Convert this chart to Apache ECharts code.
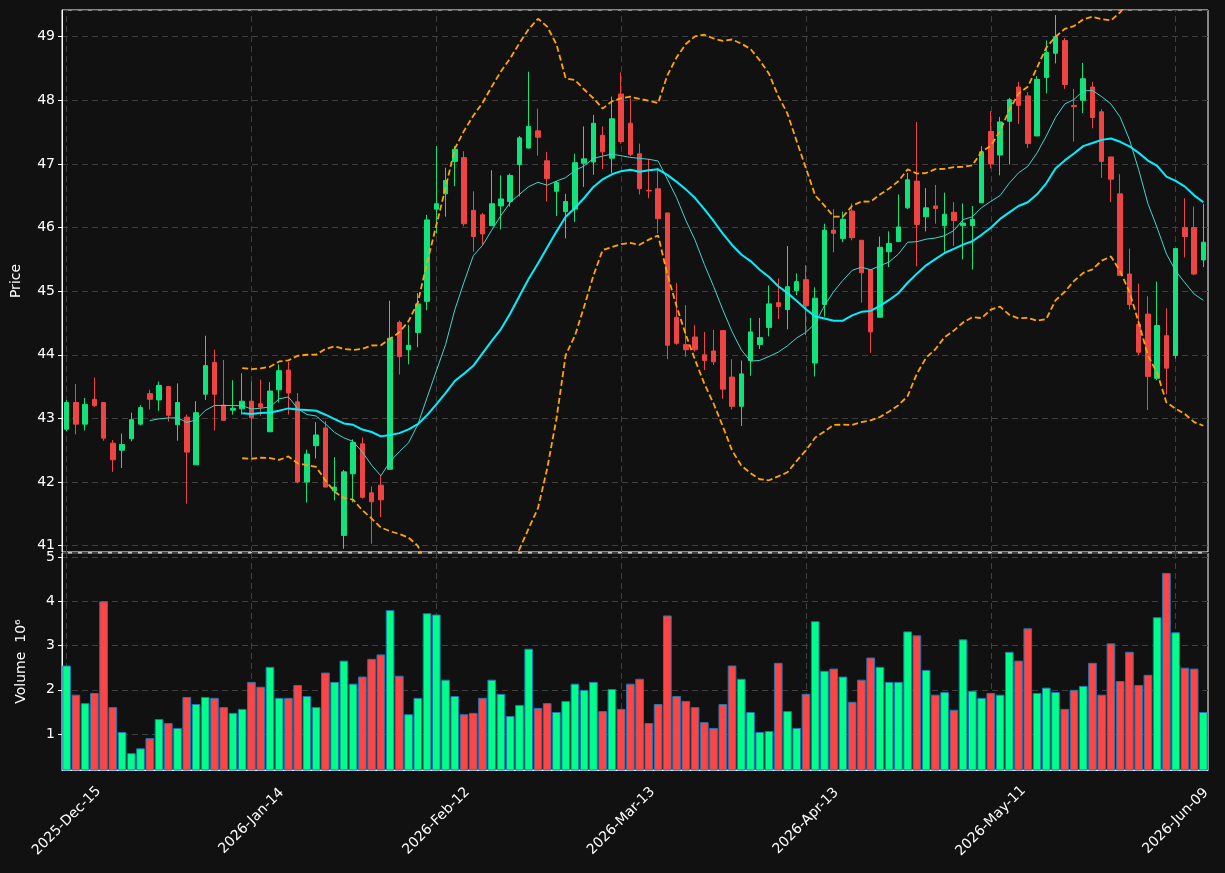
<!DOCTYPE html>
<html>
<head>
<meta charset="utf-8">
<script src="https://cdn.jsdelivr.net/npm/echarts@6/dist/echarts.min.js"></script>
<style>
  html, body { margin: 0; padding: 0; background: #111111; }
  #chart-container { width: 1225px; height: 873px; }
</style>
</head>
<body>
<div id="chart-container"></div>
<script>
// trading days from 2025-12-15, market holidays skipped
var startDay = "2025-12-15";
var barCount = 124;
var holidays = ["2025-12-25", "2026-01-01", "2026-01-19", "2026-02-16", "2026-04-03", "2026-05-25"];
var monthNames = ["Jan", "Feb", "Mar", "Apr", "May", "Jun", "Jul", "Aug", "Sep", "Oct", "Nov", "Dec"];

// OHLC
var opens = [
  42.83, 43.25, 42.91, 43.30, 43.25, 42.61, 42.50, 42.68, 42.91, 43.39,
  43.29, 43.50, 42.90, 43.02, 42.27, 43.38, 43.88, 43.21, 43.13, 43.15,
  43.27, 43.23, 42.79, 43.45, 43.76, 43.26, 42.00, 42.57, 42.85, 41.86,
  41.16, 42.13, 42.60, 41.83, 41.95, 42.20, 44.51, 44.08, 44.35, 44.84,
  46.29, 46.53, 47.04, 47.10, 46.27, 46.20, 46.03, 46.34, 46.41, 46.99,
  47.25, 47.52, 47.05, 46.57, 46.25, 46.29, 47.01, 47.03, 47.45, 47.09,
  48.10, 47.64, 47.16, 46.585, 46.61, 46.23, 44.59, 44.16, 44.28, 44.00,
  44.06, 44.38, 43.65, 43.19, 43.91, 44.16, 44.43, 44.82, 44.71, 45.01,
  45.18, 43.87, 44.79, 45.96, 45.83, 46.26, 45.80, 45.34, 44.59, 45.62,
  45.78, 46.31, 46.73, 46.17, 46.34, 46.03, 46.24, 46.03, 46.03, 46.39,
  47.51, 47.14, 47.67, 48.21, 48.07, 47.44, 48.36, 48.74, 48.94, 47.92,
  48.00, 48.21, 47.82, 47.11, 46.53, 45.27, 44.48, 44.64, 43.63, 44.30,
  43.99, 46.00, 46.00, 45.49
];
var closes = [
  43.25, 42.91, 43.22, 43.20, 42.69, 42.35, 42.59, 42.98, 43.17, 43.30,
  43.52, 43.05, 43.25, 42.47, 43.09, 43.83, 43.38, 42.97, 43.16, 43.27,
  43.01, 43.18, 43.43, 43.75, 43.40, 42.00, 42.44, 42.74, 41.92, 41.92,
  42.16, 42.62, 41.76, 41.69, 41.72, 44.26, 43.97, 44.15, 44.80, 46.12,
  46.375, 46.74, 47.23, 46.06, 45.86, 45.90, 46.375, 46.45, 46.82, 47.41,
  47.59, 47.42, 46.77, 46.71, 46.41, 47.02, 47.08, 47.64, 47.19, 47.71,
  47.35, 47.15, 46.61, 46.575, 46.14, 44.15, 44.18, 44.08, 44.08, 43.91,
  43.89, 43.46, 43.19, 43.70, 44.36, 44.27, 44.80, 44.76, 45.07, 45.15,
  44.77, 44.89, 45.96, 45.91, 46.13, 45.84, 45.29, 44.36, 45.69, 45.75,
  46.01, 46.75, 46.05, 46.31, 46.30, 46.21, 46.11, 46.07, 46.13, 47.19,
  47.00, 47.66, 48.01, 47.92, 47.32, 48.33, 48.75, 49.00, 48.25, 47.90,
  48.34, 47.73, 47.04, 46.76, 45.25, 44.79, 44.04, 43.66, 44.46, 43.79,
  45.67, 45.86, 45.27, 45.77
];
var lows = [
  42.80, 42.75, 42.81, 43.18, 42.65, 42.16, 42.22, 42.64, 42.89, 43.14,
  43.12, 42.95, 42.65, 41.66, 42.27, 43.29, 42.81, 42.97, 43.06, 43.06,
  42.39, 43.04, 42.79, 43.25, 43.06, 41.98, 41.68, 42.37, 41.92, 41.71,
  40.95, 41.68, 41.74, 41.03, 41.45, 42.20, 43.69, 43.85, 44.12, 44.70,
  45.91, 46.17, 46.65, 46.02, 45.62, 45.73, 46.03, 45.97, 46.33, 46.49,
  47.24, 47.13, 46.41, 46.18, 45.83, 46.09, 46.64, 46.83, 46.92, 46.86,
  47.32, 47.12, 46.52, 46.46, 45.91, 43.93, 44.16, 43.97, 44.05, 43.76,
  43.84, 43.31, 43.14, 42.88, 43.67, 44.09, 44.29, 44.56, 44.40, 44.94,
  44.31, 43.66, 44.60, 45.61, 45.77, 45.80, 44.82, 44.03, 44.59, 45.38,
  45.78, 46.29, 45.39, 45.94, 46.06, 45.62, 45.71, 45.50, 45.34, 46.39,
  46.93, 46.82, 46.99, 47.63, 47.25, 47.44, 48.11, 48.58, 48.18, 47.35,
  47.80, 47.56, 46.78, 46.40, 45.25, 44.71, 43.99, 43.13, 43.60, 43.38,
  43.94, 45.53, 45.25, 45.38
];
var highs = [
  43.29, 43.54, 43.32, 43.64, 43.25, 42.66, 42.76, 43.09, 43.21, 43.45,
  43.58, 43.50, 43.55, 43.06, 43.27, 44.30, 44.08, 43.92, 43.60, 43.71,
  43.58, 43.61, 43.57, 43.85, 43.89, 43.40, 42.51, 42.94, 42.96, 42.39,
  42.19, 42.67, 42.70, 41.93, 42.10, 44.85, 44.54, 44.47, 44.97, 46.20,
  47.28, 46.94, 47.28, 47.20, 46.57, 46.23, 46.90, 46.82, 46.85, 47.44,
  48.45, 47.87, 47.19, 46.73, 46.53, 47.16, 47.59, 47.77, 47.59, 48.06,
  48.44, 48.03, 47.32, 47.08, 46.94, 46.23, 45.13, 44.78, 44.47, 44.36,
  44.39, 44.38, 43.93, 43.91, 44.58, 44.58, 45.09, 45.20, 45.71, 45.28,
  45.41, 45.06, 46.06, 46.29, 46.25, 46.38, 45.80, 45.34, 45.86, 45.94,
  46.52, 46.86, 47.66, 46.62, 46.67, 46.55, 46.40, 46.38, 46.34, 47.28,
  47.83, 47.74, 48.04, 48.29, 48.13, 48.38, 48.94, 49.34, 48.98, 48.18,
  48.59, 48.29, 47.86, 47.11, 46.84, 45.67, 45.12, 44.92, 45.15, 44.73,
  45.67, 46.46, 46.33, 46.37
];
// volume in millions
var volumes = [
  2.55, 1.89, 1.70, 1.93, 4.00, 1.61, 1.05, 0.57, 0.68, 0.91,
  1.34, 1.25, 1.14, 1.84, 1.68, 1.84, 1.82, 1.61, 1.48, 1.57,
  2.18, 2.07, 2.52, 1.82, 1.82, 2.11, 1.86, 1.61, 2.39, 2.18,
  2.66, 2.14, 2.30, 2.70, 2.80, 3.80, 2.32, 1.45, 1.82, 3.73,
  3.70, 2.23, 1.86, 1.45, 1.48, 1.82, 2.23, 1.91, 1.41, 1.66,
  2.93, 1.59, 1.70, 1.50, 1.75, 2.14, 2.00, 2.18, 1.52, 2.02,
  1.57, 2.14, 2.25, 1.25, 1.68, 3.68, 1.86, 1.75, 1.61, 1.27,
  1.14, 1.68, 2.55, 2.25, 1.50, 1.05, 1.07, 2.61, 1.52, 1.14,
  1.91, 3.55, 2.43, 2.48, 2.30, 1.73, 2.23, 2.73, 2.52, 2.18,
  2.18, 3.32, 3.23, 2.45, 1.89, 1.95, 1.55, 3.14, 1.98, 1.82,
  1.93, 1.89, 2.86, 2.66, 3.39, 1.93, 2.05, 1.95, 1.57, 2.00,
  2.09, 2.61, 1.89, 3.05, 2.20, 2.86, 2.11, 2.34, 3.64, 4.64,
  3.30, 2.50, 2.48, 1.50
];

var upColor = "#11e27c";
var downColor = "#ee4444";
var volUp = "#00ff88";
var volDown = "#ff4444";

function pad(n) { return n < 10 ? "0" + n : "" + n; }

function tradingDays(start, count) {
  var out = [];
  var d = new Date(start + "T12:00:00Z");
  while (out.length < count) {
    var iso = d.getUTCFullYear() + "-" + pad(d.getUTCMonth() + 1) + "-" + pad(d.getUTCDate());
    var wd = d.getUTCDay();
    if (wd !== 0 && wd !== 6 && holidays.indexOf(iso) < 0) {
      out.push(d.getUTCFullYear() + "-" + monthNames[d.getUTCMonth()] + "-" + pad(d.getUTCDate()));
    }
    d.setUTCDate(d.getUTCDate() + 1);
  }
  return out;
}
var dates = tradingDays(startDay, barCount);

// rolling mean / std of the closes
function sma(arr, n) {
  return arr.map(function (v, i) {
    if (i < n - 1) return null;
    var s = 0;
    for (var k = i - n + 1; k <= i; k++) s += arr[k];
    return +(s / n).toFixed(4);
  });
}
function band(arr, n, mult) {
  var mid = sma(arr, n);
  return arr.map(function (v, i) {
    if (mid[i] === null) return null;
    var s = 0;
    for (var k = i - n + 1; k <= i; k++) s += (arr[k] - mid[i]) * (arr[k] - mid[i]);
    var sd = Math.sqrt(s / (n - 1));
    return +(mid[i] + mult * sd).toFixed(4);
  });
}

var ma10 = sma(closes, 10);
var ma20 = sma(closes, 20);
var bbUpper = band(closes, 20, 2);
var bbLower = band(closes, 20, -2);

var candleData = opens.map(function (o, i) {
  return [o, closes[i], lows[i], highs[i]];
});
var volumeData = volumes.map(function (v, i) {
  return {
    value: v,
    itemStyle: { color: closes[i] >= opens[i] ? volUp : volDown },
  };
});

var dom = document.getElementById("chart-container");
var myChart = echarts.init(dom, null, { renderer: "canvas" });

var every20 = function (idx) { return idx % 20 === 0; };
var dashStyle = { color: "#3f3f3f", type: [6, 4], width: 1 };
var txt = { color: "#ffffff", fontSize: 14, fontFamily: "DejaVu Sans" };

// vertical grid lines drawn as long inside ticks so they sit on the candle centres
function gridAxis(gi, len) {
  return {
    type: "category", gridIndex: gi, data: dates, boundaryGap: true,
    axisLine: { show: false },
    axisLabel: { show: false, interval: every20 },
    axisTick: { show: true, inside: true, alignWithLabel: true, interval: every20, length: len, lineStyle: dashStyle },
    splitLine: { show: false },
  };
}

var option = {
  backgroundColor: "#111111",
  animation: false,
  grid: [
    { left: 62, right: 17, top: 10, height: 542, show: true, borderColor: "#ffffff", borderWidth: 1, backgroundColor: "#111111" },
    { left: 62, right: 17, top: 553, height: 217, show: true, borderColor: "#ffffff", borderWidth: 1, backgroundColor: "#111111" },
  ],
  xAxis: [
    gridAxis(0, 542),
    {
      type: "category", gridIndex: 1, data: dates, boundaryGap: true,
      axisLine: { lineStyle: { color: "#ffffff" } },
      axisTick: { alignWithLabel: true, interval: every20, length: 5, lineStyle: { color: "#ffffff" } },
      axisLabel: Object.assign({ interval: every20, rotate: 45, margin: 51, align: "center", verticalAlign: "middle" }, txt),
      splitLine: { show: false },
    },
    gridAxis(1, 217),
  ],
  yAxis: [
    {
      type: "value", gridIndex: 0, min: 40.9, max: 49.42, splitNumber: 9, scale: true,
      name: "Price", nameLocation: "middle", nameGap: 39, nameTextStyle: txt,
      axisLine: { show: true, lineStyle: { color: "#ffffff" } },
      axisTick: { show: true, length: 4, lineStyle: { color: "#ffffff" } },
      axisLabel: Object.assign({ showMinLabel: false, showMaxLabel: false, margin: 7 }, txt),
      splitLine: { show: true, lineStyle: dashStyle },
    },
    {
      type: "value", gridIndex: 1, min: 0.19, max: 5.09, splitNumber: 5,
      name: "Volume  10\u2076", nameLocation: "middle", nameGap: 34, nameTextStyle: txt,
      axisLine: { show: true, lineStyle: { color: "#ffffff" } },
      axisTick: { show: true, length: 4, lineStyle: { color: "#ffffff" } },
      axisLabel: Object.assign({ showMinLabel: false, showMaxLabel: false, margin: 7 }, txt),
      splitLine: { show: true, lineStyle: dashStyle },
    },
  ],
  series: [
    {
      name: "OHLC", type: "candlestick", xAxisIndex: 0, yAxisIndex: 0,
      data: candleData, barWidth: 5,
      itemStyle: { color: upColor, color0: downColor, borderColor: upColor, borderColor0: downColor, borderWidth: 1 },
    },
    {
      name: "MA10", type: "line", xAxisIndex: 0, yAxisIndex: 0, data: ma10,
      showSymbol: false, clip: true, lineStyle: { color: "#3fd6cc", width: 1 },
    },
    {
      name: "MA20", type: "line", xAxisIndex: 0, yAxisIndex: 0, data: ma20,
      showSymbol: false, clip: true, lineStyle: { color: "#00f0ff", width: 2 },
    },
    {
      name: "Upper", type: "line", xAxisIndex: 0, yAxisIndex: 0, data: bbUpper,
      showSymbol: false, clip: true, lineStyle: { color: "#ffa500", width: 1.8, type: [6, 3] },
    },
    {
      name: "Lower", type: "line", xAxisIndex: 0, yAxisIndex: 0, data: bbLower,
      showSymbol: false, clip: true, lineStyle: { color: "#ffa500", width: 1.8, type: [6, 3] },
    },
    {
      name: "Volume", type: "bar", xAxisIndex: 1, yAxisIndex: 1, data: volumeData,
      barCategoryGap: "6%",
      itemStyle: { borderColor: "#1f77b4", borderWidth: 1 },
    },
  ],
};

myChart.setOption(option);
window.addEventListener("resize", myChart.resize);
</script>
</body>
</html>
